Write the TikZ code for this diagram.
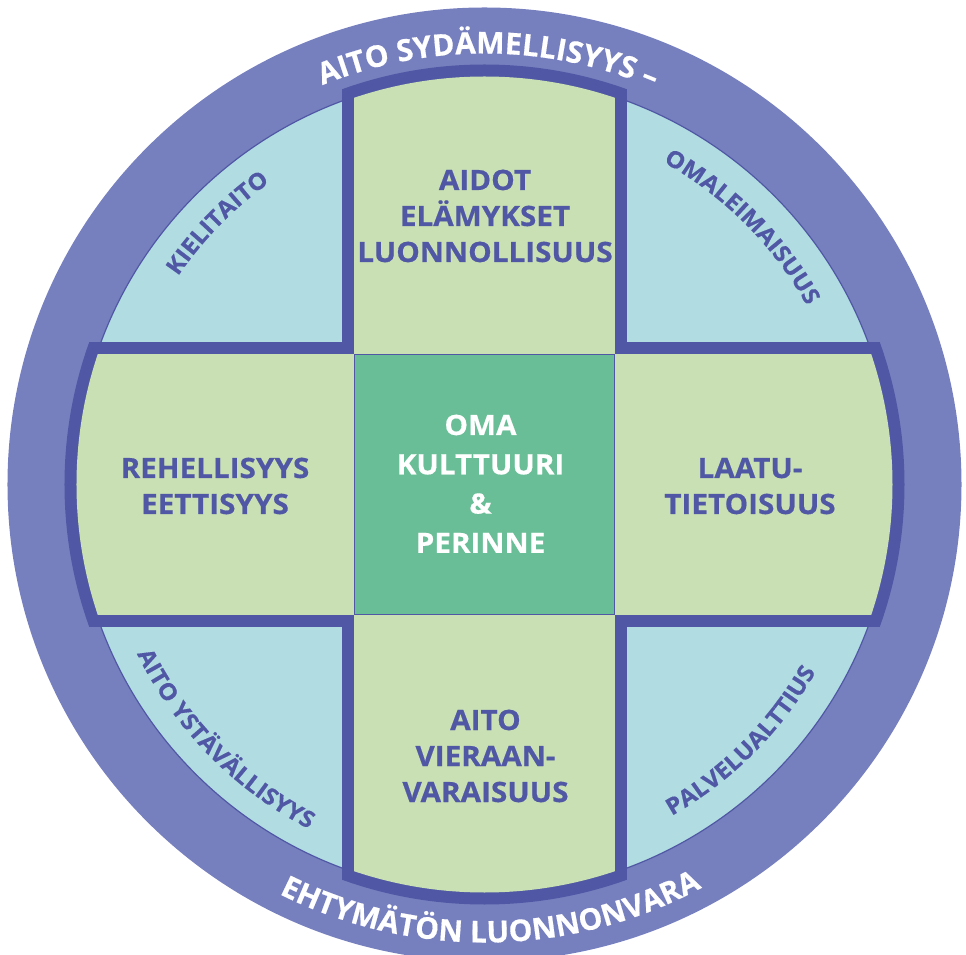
\documentclass[tikz,border=0pt]{standalone}
\usepackage{fontspec}
\setmainfont{Open Sans}[FakeBold=0.5]
\newfontfamily\widefont{Open Sans}[FakeStretch=1.06,FakeBold=0.5]
\usetikzlibrary{decorations.text}
\definecolor{ring}{HTML}{7780BF}
\definecolor{dark}{HTML}{5057A4}
\definecolor{qblue}{HTML}{B0DCE2}
\definecolor{lgreen}{HTML}{C9DFB4}
\definecolor{cgreen}{HTML}{6ABE97}
\newcommand\armfont{\widefont\fontsize{28}{36}\selectfont\bfseries}
\newcommand\corefont{\widefont\fontsize{28}{39.3}\selectfont\bfseries}
\newcommand\ringfont{\fontsize{30}{30}\selectfont\bfseries\color{white}}
\newcommand\cornerfont{\widefont\fontsize{23}{23}\selectfont\bfseries\color{dark}}
\begin{document}
\begin{tikzpicture}[x=1pt,y=1pt,
  armtext/.style={text=dark, font=\armfont, align=center, text width=270pt, anchor=base, inner sep=0pt},
  coretext/.style={text=white, font=\corefont, align=center, text width=250pt, anchor=base, inner sep=0pt},
  arctext/.style={decorate, decoration={text along path, text align=center, text={#1}}}
]
\useasboundingbox (-484.5,-470.5) rectangle (481.5,484.5);
% outer ring
\fill[ring] (0,0) circle (477);
% quadrant disc
\filldraw[fill=qblue, draw=dark, line width=1.2pt] (0,0) circle (409);
% dark cross
\begin{scope}
  \clip (0,0) circle (420);
  \fill[dark] (-142.5,-430) rectangle (142.5,430);
  \fill[dark] (-430,-142.5) rectangle (430,142.5);
\end{scope}
% green cross
\begin{scope}
  \clip (0,0) circle (408);
  \fill[lgreen] (-130,-420) rectangle (130,420);
  \fill[lgreen] (-420,-130) rectangle (420,130);
\end{scope}
% centre square
\node[draw=dark, fill=cgreen, line width=1.5pt, minimum size=260pt, inner sep=0pt] (core) at (0,0) {};
% arm texts
\node[armtext] (toparm) at (0.5,294.5) {AIDOT\\ELÄMYKSET\\LUONNOLLISUUS};
\node[armtext] (leftarm) at (-269.5,6.5) {REHELLISYYS\\EETTISYYS};
\node[armtext] (rightarm) at (265.5,6.5) {LAATU-\\TIETOISUUS};
\node[armtext] (bottomarm) at (1,-245.5) {AITO\\VIERAAN-\\VARAISUUS};
\node[coretext] (coretxt) at (-4,49.5) {OMA\\KULTTUURI\\\&\\PERINNE};
% ring texts
\path[arctext={|\ringfont|AITO SYDÄMELLISYYS –}] (139.5:431) arc[start angle=139.5, end angle=39.5, radius=431];
\path[arctext={|\ringfont|EHTYMÄTÖN LUONNONVARA}] (220.85:458) arc[start angle=220.85, end angle=320.85, radius=458];
% corner texts
\path[arctext={|\cornerfont|KIELITAITO}] (180.6:370.5) arc[start angle=180.6, end angle=90.6, radius=370.5];
\path[arctext={|\cornerfont|OMALEIMAISUUS}] (90:368.5) arc[start angle=90, end angle=0, radius=368.5];
\path[arctext={|\cornerfont|AITO YSTÄVÄLLISYYS}] (179.5:386.5) arc[start angle=179.5, end angle=269.5, radius=386.5];
\path[arctext={|\cornerfont|PALVELUALTTIUS}] (-90:380.5) arc[start angle=-90, end angle=0, radius=380.5];
\end{tikzpicture}
\end{document}
